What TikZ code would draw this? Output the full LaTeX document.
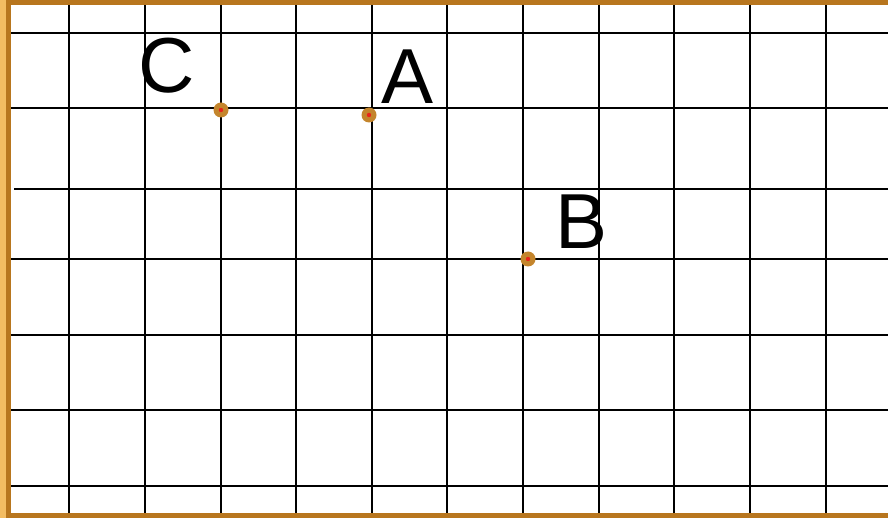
\documentclass[tikz,border=0pt]{standalone}
\usepackage{fontspec}
\setmainfont{Liberation Sans}
\definecolor{frame}{HTML}{B8761E}
\definecolor{frameside}{HTML}{F3BC62}
\definecolor{ptbrown}{HTML}{C4852C}
\definecolor{ptred}{HTML}{E8251A}
\begin{document}
\begin{tikzpicture}[x=1pt,y=-1pt,
	gridline/.style={line width=2pt,black},
	pt/.style={circle,fill=ptbrown,inner sep=0pt,minimum size=15pt,
		path picture={\fill[ptred] (path picture bounding box.center) circle (2.2pt);}},
	lbl/.style={inner sep=0pt,font=\fontsize{78}{78}\selectfont}]
	\useasboundingbox (0,0) rectangle (888,518);
	% grid
	\foreach \gx in {69,145,221,296,372,447,523,599,674,750,826}
		\draw[gridline] (\gx,3) -- (\gx,516);
	\foreach \gy in {33,108,259,335,410,486}
		\draw[gridline] (9,\gy) -- (888,\gy);
	\draw[gridline] (14,189) -- (888,189);
	% frame
	\fill[frameside] (0,0) rectangle (6,518);
	\fill[frame] (6,0) rectangle (11,518);
	\fill[frame] (6,0) rectangle (888,5);
	\fill[frame] (6,513) rectangle (888,518);
	% points
	\node[pt] (C) at (221,110) {};
	\node[pt] (A) at (369,115) {};
	\node[pt] (B) at (528,259) {};
	\node[lbl] (labC) at (167,66) {C};
	\node[lbl] (labA) at (408,77) {A};
	\node[lbl] (labB) at (582,222) {B};
\end{tikzpicture}
\end{document}
